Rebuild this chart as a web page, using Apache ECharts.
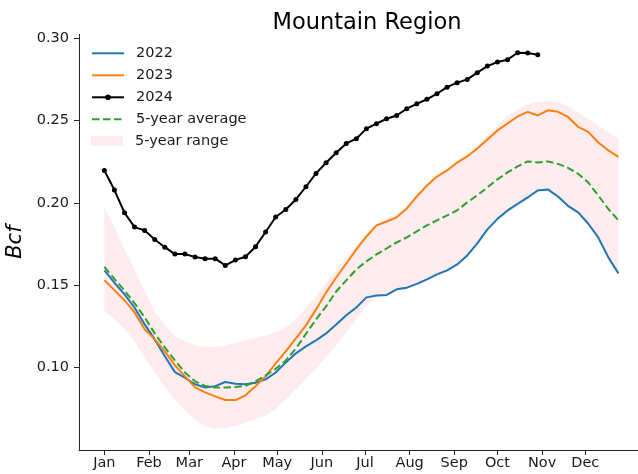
<!DOCTYPE html>
<html>
<head>
<meta charset="utf-8">
<script src="https://cdn.jsdelivr.net/npm/echarts@6/dist/echarts.min.js"></script>
<style>
html,body{margin:0;padding:0;background:#fff;}
#chart{width:638px;height:474px;}
</style>
</head>
<body>
<div id="chart"></div>
<script>
// Tick labels (month starts, day-of-year offsets from Jan 1)
const monthLabels = ['Jan','Feb','Mar','Apr','May','Jun','Jul','Aug','Sep','Oct','Nov','Dec'];
const monthStartDays = [0,31,59,90,120,151,181,212,243,273,304,334];
const yTickValues = [0.10,0.15,0.20,0.25,0.30];

// Weekly series (week index -> day offset = 7 * week)
const series2022 = [0.1591,0.1516,0.1445,0.1364,0.1263,0.1172,0.1070,0.0973,0.0939,0.0899,
  0.0879,0.0888,0.0913,0.0903,0.0899,0.0908,0.0929,0.0971,0.1032,0.1087,
  0.1129,0.1166,0.1208,0.1263,0.1318,0.1366,0.1427,0.1439,0.1442,0.1476,
  0.1486,0.1509,0.1536,0.1567,0.1591,0.1627,0.1682,0.1755,0.1840,0.1904,
  0.1955,0.1995,0.2034,0.2077,0.2083,0.2040,0.1983,0.1943,0.1876,0.1791,
  0.1670,0.1573];

const series2023 = [0.1532,0.1471,0.1409,0.1336,0.1233,0.1172,0.1099,0.1014,0.0947,0.0880,
  0.0850,0.0826,0.0804,0.0803,0.0832,0.0887,0.0947,0.1026,0.1099,0.1178,
  0.1257,0.1354,0.1457,0.1548,0.1633,0.1719,0.1797,0.1864,0.1888,0.1913,
  0.1967,0.2040,0.2107,0.2161,0.2198,0.2246,0.2283,0.2331,0.2386,0.2441,
  0.2483,0.2526,0.2554,0.2532,0.2563,0.2554,0.2523,0.2463,0.2432,0.2368,
  0.2320,0.2280];

const series2024 = [0.2198,0.2079,0.1941,0.1854,0.1834,0.1779,0.1732,0.1690,0.1690,0.1672,
  0.1662,0.1662,0.1621,0.1654,0.1674,0.1735,0.1824,0.1915,0.1961,0.2022,
  0.2099,0.2180,0.2245,0.2306,0.2362,0.2391,0.2452,0.2482,0.2512,0.2532,
  0.2573,0.2603,0.2630,0.2664,0.2704,0.2731,0.2751,0.2792,0.2832,0.2857,
  0.2871,0.2913,0.2912,0.2901];

const avg5yr = [0.1612,0.1539,0.1469,0.1391,0.1306,0.1208,0.1123,0.1044,0.0971,0.0917,
  0.0889,0.0880,0.0880,0.0883,0.0889,0.0917,0.0953,0.0993,0.1044,0.1117,
  0.1205,0.1293,0.1372,0.1463,0.1530,0.1597,0.1646,0.1688,0.1724,0.1761,
  0.1792,0.1828,0.1865,0.1895,0.1925,0.1956,0.2004,0.2047,0.2095,0.2144,
  0.2186,0.2223,0.2253,0.2247,0.2253,0.2238,0.2214,0.2178,0.2125,0.2046,
  0.1964,0.1895];

const rangeHigh = [0.1973,0.1852,0.1718,0.1597,0.1463,0.1342,0.1257,0.1190,0.1160,0.1135,
  0.1129,0.1126,0.1135,0.1151,0.1166,0.1181,0.1196,0.1214,0.1245,0.1293,
  0.1366,0.1433,0.1518,0.1597,0.1670,0.1737,0.1800,0.1870,0.1905,0.1930,
  0.1975,0.2050,0.2110,0.2165,0.2205,0.2255,0.2300,0.2350,0.2410,0.2470,
  0.2530,0.2570,0.2600,0.2615,0.2620,0.2615,0.2590,0.2550,0.2510,0.2470,
  0.2430,0.2390];

const rangeLow = [0.1342,0.1299,0.1233,0.1160,0.1063,0.0970,0.0886,0.0807,0.0741,0.0686,
  0.0644,0.0631,0.0634,0.0646,0.0666,0.0686,0.0710,0.0747,0.0808,0.0868,
  0.0929,0.0996,0.1063,0.1135,0.1214,0.1293,0.1378,0.1421,0.1433,0.1466,
  0.1476,0.1498,0.1525,0.1556,0.1580,0.1615,0.1670,0.1742,0.1826,0.1890,
  0.1940,0.1980,0.2020,0.2065,0.2070,0.2028,0.1970,0.1930,0.1862,0.1778,
  0.1656,0.1560];

const weekDay = i => i * 7;
const toXY = arr => arr.map((v, i) => [weekDay(i), v]);

const FONT = 'DejaVu Sans';
const AXIS_COLOR = '#262626';
const TEXT_COLOR = '#1a1a1a';
const bandColor = 'rgba(255,192,203,0.3)';

const chart = echarts.init(document.getElementById('chart'), null, {renderer: 'canvas'});

const bandData = rangeLow.map((v, i) => [weekDay(i), v, rangeHigh[i]]);
const legendText = {fontFamily: FONT, fontSize: 14.5, color: TEXT_COLOR, lineHeight: 16, padding: [0,0,0,7]};
const hideSym = {opacity: 0};

chart.setOption({
  animation: false,
  backgroundColor: '#fff',
  textStyle: {fontFamily: FONT},
  title: {
    text: 'Mountain Region',
    left: 362,
    top: 7,
    textAlign: 'center',
    textStyle: {fontFamily: FONT, fontSize: 22.5, fontWeight: 'normal', color: '#000'}
  },
  legend: [
    {
      orient: 'vertical',
      left: 86,
      top: 40.3,
      itemWidth: 32,
      itemHeight: 7,
      itemGap: 6,
      textStyle: legendText,
      data: [
        {name: '2022', itemStyle: hideSym},
        {name: '2023', itemStyle: hideSym},
        {name: '2024'},
        {name: '5-year average', itemStyle: hideSym}
      ]
    },
    {
      orient: 'vertical',
      left: 86,
      top: 128,
      itemWidth: 32,
      itemHeight: 10,
      textStyle: legendText,
      data: [{name: '5-year range', icon: 'rect'}]
    }
  ],
  grid: {left: 79, right: 0, top: 34.3, bottom: 24, containLabel: false, outerBoundsMode: 'none'},
  xAxis: {
    type: 'value',
    min: -17.6,
    max: 370.6,
    splitLine: {show: false},
    axisLine: {show: true, onZero: false, lineStyle: {color: AXIS_COLOR, width: 1}},
    axisTick: {show: true, length: 5, lineStyle: {color: AXIS_COLOR}, customValues: monthStartDays},
    axisLabel: {
      customValues: monthStartDays,
      margin: 6,
      fontFamily: FONT, fontSize: 14.5, color: TEXT_COLOR,
      formatter: function (v) {
        const idx = monthStartDays.indexOf(Math.round(v));
        return idx >= 0 ? monthLabels[idx] : '';
      }
    }
  },
  yAxis: {
    type: 'value',
    min: 0.05,
    max: 0.3025,
    name: 'Bcf',
    nameLocation: 'middle',
    nameGap: 48,
    nameTextStyle: {fontFamily: FONT, fontSize: 21, fontStyle: 'italic', color: '#000'},
    splitLine: {show: false},
    axisLine: {show: true, onZero: false, lineStyle: {color: AXIS_COLOR, width: 1}},
    axisTick: {show: true, length: 5, lineStyle: {color: AXIS_COLOR}, customValues: yTickValues},
    axisLabel: {
      customValues: yTickValues,
      margin: 10,
      fontFamily: FONT, fontSize: 14.5, color: TEXT_COLOR,
      formatter: v => v.toFixed(2)
    }
  },
  series: [
    {
      name: '5-year range',
      type: 'custom',
      z: 1,
      itemStyle: {color: bandColor},
      data: bandData,
      encode: {x: 0, y: [1, 2]},
      clip: true,
      renderItem: function (params, api) {
        if (params.dataIndex !== 0) return null;
        const pts = [];
        for (let i = 0; i < rangeHigh.length; i++) pts.push(api.coord([weekDay(i), rangeHigh[i]]));
        for (let i = rangeLow.length - 1; i >= 0; i--) pts.push(api.coord([weekDay(i), rangeLow[i]]));
        return {type: 'polygon', shape: {points: pts}, style: {fill: bandColor}};
      }
    },
    {
      name: '2022', type: 'line', z: 3, data: toXY(series2022),
      showSymbol: false, symbol: 'none',
      itemStyle: {color: '#1f77b4'}, lineStyle: {color: '#1f77b4', width: 2}
    },
    {
      name: '2023', type: 'line', z: 3, data: toXY(series2023),
      showSymbol: false, symbol: 'none',
      itemStyle: {color: '#ff7f0e'}, lineStyle: {color: '#ff7f0e', width: 2}
    },
    {
      name: '2024', type: 'line', z: 4, data: toXY(series2024),
      symbol: 'circle', symbolSize: 5, showSymbol: true,
      itemStyle: {color: '#000'}, lineStyle: {color: '#000', width: 2}
    },
    {
      name: '5-year average', type: 'line', z: 3, data: toXY(avg5yr),
      showSymbol: false, symbol: 'none',
      itemStyle: {color: '#2ca02c'}, lineStyle: {color: '#2ca02c', width: 2, type: [7.5, 3.5]}
    }
  ]
});
</script>
</body>
</html>
